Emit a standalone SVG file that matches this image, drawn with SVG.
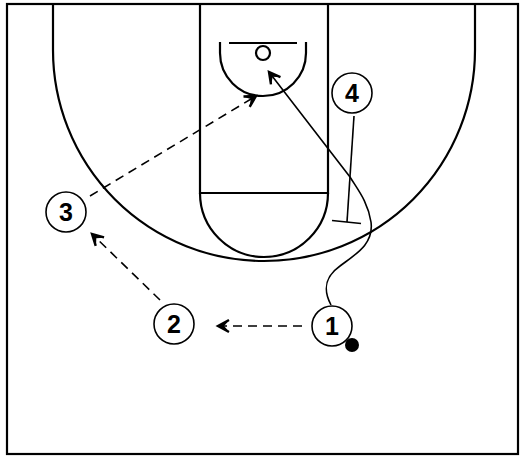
<svg xmlns="http://www.w3.org/2000/svg" width="525" height="458" viewBox="0 0 525 458">
<defs>
<style>
.court{fill:none;stroke:#000;stroke-width:2.2}
.pl circle{fill:#fff;stroke:#000;stroke-width:1.6}
.pl text{font-family:"Liberation Sans",Arial,sans-serif;font-weight:bold;font-size:25px;text-anchor:middle;fill:#000}
.pass{fill:none;stroke:#000;stroke-width:1.6;stroke-dasharray:9 6}
.drib{fill:none;stroke:#000;stroke-width:1.6}
</style>
<marker id="ah" markerUnits="userSpaceOnUse" markerWidth="18" markerHeight="18" refX="14" refY="9" orient="auto">
<path d="M3,3 L14,9 L3,15" fill="none" stroke="#000" stroke-width="2.4" stroke-linejoin="miter"/>
<path d="M3,3.5 L14,9 L3,14.5 L8,9 z" fill="#000"/>
</marker>
</defs>
<rect width="525" height="458" fill="#fff"/>
<g id="court">
<rect class="court" x="7" y="4" width="511" height="450"/>
<path class="court" d="M53,4 L53,50 A211,211 0 0 0 475,50 L475,4"/>
<path class="court" d="M200,4 L200,193 L328,193 L328,4"/>
<path class="court" d="M200,193 A64,64 0 0 0 328,193"/>
<line class="court" x1="229" y1="43" x2="297" y2="43"/>
<circle class="court" cx="263" cy="53" r="7"/>
<path class="court" d="M220,42 L220,53 A43,43 0 0 0 306,53 L306,42"/>
</g>
<g id="connectors">
<line class="pass" x1="302" y1="326" x2="218" y2="326" marker-end="url(#ah)"/>
<line class="pass" x1="160" y1="300" x2="92" y2="234" marker-end="url(#ah)"/>
<line class="pass" x1="90" y1="196" x2="256" y2="96" marker-end="url(#ah)"/>
<path class="drib" d="M331,305 C322,288 326,276 340,266 C356,254 374,244 371,222 C368,202 358,190 350,177 L269,72" marker-end="url(#ah)"/>
<line class="drib" x1="354" y1="116" x2="347" y2="222"/>
<line class="drib" x1="332" y1="220.5" x2="361" y2="223.5"/>
</g>
<g id="p1" class="pl"><circle cx="332" cy="326" r="20"/><text x="332" y="335">1</text></g>
<g id="p2" class="pl"><circle cx="174" cy="324" r="20"/><text x="174" y="333">2</text></g>
<g id="p3" class="pl"><circle cx="66" cy="212" r="20"/><text x="66" y="221">3</text></g>
<g id="p4" class="pl"><circle cx="352" cy="93" r="20"/><text x="352" y="102">4</text></g>
<g id="ball"><circle cx="352" cy="345" r="7" fill="#000"/></g>
</svg>
